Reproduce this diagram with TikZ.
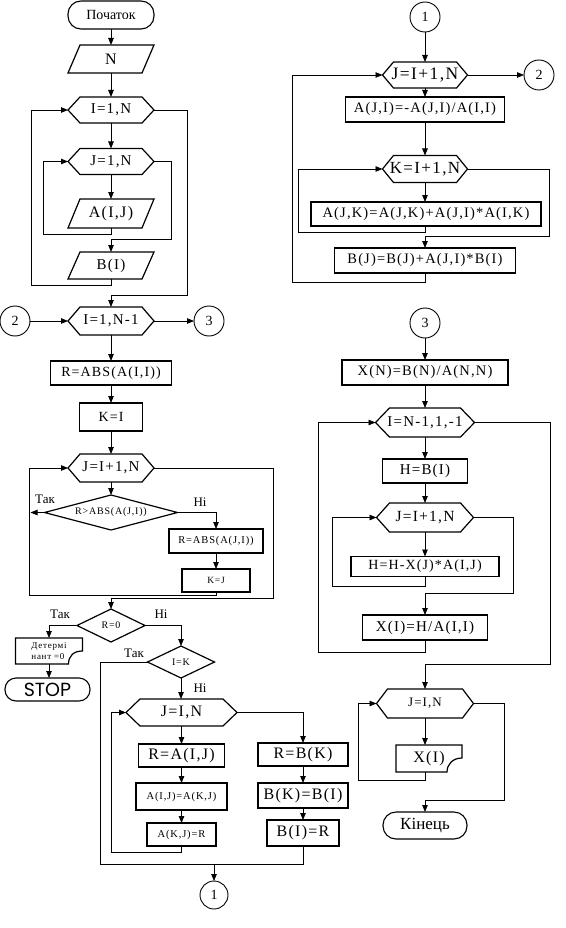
\documentclass[tikz,border=0pt]{standalone}
\usepackage{fontspec}
\setmainfont{Liberation Serif}
\newfontfamily\lblfont{Liberation Serif}[LetterSpace=8]
\newfontfamily\stopfont{Poppins}
\usetikzlibrary{arrows.meta}
\newcommand\myfs[1]{\fontsize{#1}{#1}\selectfont}
\newcommand\hexo[2][12pt]{\draw[outl] (#2.west) -- ([xshift=#1]#2.north west) -- ([xshift=-#1]#2.north east) -- (#2.east) -- ([xshift=-#1]#2.south east) -- ([xshift=#1]#2.south west) -- cycle;}
\newcommand\paro[2][12pt]{\draw[outl] ([xshift=#1]#2.north west) -- (#2.north east) -- ([xshift=-#1]#2.south east) -- (#2.south west) -- cycle;}
\newcommand\diamo[1]{\draw[outl] (#1.west) -- (#1.north) -- (#1.east) -- (#1.south) -- cycle;}
\begin{document}
\begin{tikzpicture}[x=1pt,y=-1pt,
  every node/.style={inner sep=0pt,outer sep=0pt},
  proc/.style={draw,line width=1.6pt,font=\lblfont\myfs{14}},
  shp/.style={font=\lblfont\myfs{15}},
  term/.style={draw,line width=1.1pt,font=\myfs{14}},
  conn/.style={draw,circle,line width=0.9pt,minimum size=30pt,font=\myfs{14}},
  arr/.style={draw,line width=0.8pt,-{Triangle[length=7pt,width=5.5pt]}},
  ln/.style={draw,line width=0.8pt},
  outl/.style={line width=1.2pt,line join=miter},
  lab/.style={font=\myfs{13}}]
\useasboundingbox (0,0) rectangle (565,928);

% ---------- left column ----------
\node[term,minimum width=86pt,minimum height=28pt,rounded corners=13pt] (start) at (111,15) {Початок};
\node[shp,minimum width=86pt,minimum height=28pt,font=\lblfont\myfs{16}] (inN) at (111,59) {N};
\node[shp,minimum width=86pt,minimum height=26pt] (hI) at (111,110) {I=1,N};
\node[shp,minimum width=86pt,minimum height=26pt] (hJ) at (111,161.5) {J=1,N};
\node[shp,minimum width=86pt,minimum height=29pt,font=\lblfont\myfs{16}] (inA) at (111,213.5) {A(I,J)};
\node[shp,minimum width=86pt,minimum height=27pt] (inB) at (111,265.5) {B(I)};
\node[shp,minimum width=86pt,minimum height=28pt] (hI2) at (111,321) {I=1,N-1};
\node[conn] (c2) at (15,321) {2};
\node[conn] (c3) at (209,321) {3};
\node[proc,minimum width=121pt,minimum height=24pt] (rAbs) at (111,373) {R=ABS(A(I,I))};
\node[proc,minimum width=63pt,minimum height=28pt] (rK) at (111,417) {K=I};
\node[shp,minimum width=86pt,minimum height=28pt] (hJ2) at (111,468) {J=I+1,N};
\node[shp,minimum width=133pt,minimum height=35pt,font=\lblfont\myfs{10}] (dR) at (111,512.5) {R>ABS(A(J,I))};
\node[proc,minimum width=94pt,minimum height=24pt,font=\lblfont\myfs{10.5}] (rAbs2) at (216,541) {R=ABS(A(J,I))};
\node[proc,minimum width=68pt,minimum height=23pt,font=\lblfont\myfs{9.5}] (rKJ) at (216,580.5) {K=J};
\node[shp,minimum width=68pt,minimum height=33pt,font=\lblfont\myfs{10}] (dR0) at (111,625.5) {R=0};
\node[shp,minimum width=67pt,minimum height=26pt,align=left,font=\lblfont\fontsize{9}{11}\selectfont] (doc1) at (49,651) {Детермі\\нант =0};
\node[term,minimum width=85pt,minimum height=23pt,rounded corners=11pt,font=\stopfont\myfs{19}] (stop) at (47.5,689.5) {STOP};
\node[shp,minimum width=67pt,minimum height=32pt,font=\lblfont\myfs{10}] (dIK) at (181,662) {I=K};
\node[shp,minimum width=111pt,minimum height=27pt,font=\lblfont\myfs{16}] (hJ3) at (181.5,712.5) {J=I,N};
\node[proc,minimum width=86pt,minimum height=23pt,font=\lblfont\myfs{16}] (rRA) at (181.5,755.5) {R=A(I,J)};
\node[proc,minimum width=91pt,minimum height=27pt,font=\lblfont\myfs{10.5}] (rAA) at (181.5,796.5) {A(I,J)=A(K,J)};
\node[proc,minimum width=69pt,minimum height=23pt,font=\lblfont\myfs{10.5}] (rAK) at (181.5,834.5) {A(K,J)=R};
\node[proc,minimum width=90pt,minimum height=23pt,font=\lblfont\myfs{16}] (rRB) at (303,754.5) {R=B(K)};
\node[proc,minimum width=90pt,minimum height=25pt,font=\lblfont\myfs{16}] (rBK) at (303,795.5) {B(K)=B(I)};
\node[proc,minimum width=72pt,minimum height=26pt,font=\lblfont\myfs{16}] (rBI) at (303,833) {B(I)=R};
\node[conn,minimum size=28pt] (c1b) at (214,895) {1};
\coordinate (jn) at (214,864);

% ---------- right column ----------
\node[conn] (c1) at (425,17) {1};
\node[shp,minimum width=85pt,minimum height=26pt,font=\lblfont\myfs{17.5}] (hJR) at (425,75) {J=I+1,N};
\node[conn] (c2r) at (539,75) {2};
\node[proc,minimum width=159pt,minimum height=25pt,font=\lblfont\myfs{14.5}] (rA1) at (425,109.5) {A(J,I)=-A(J,I)/A(I,I)};
\node[shp,minimum width=85pt,minimum height=27pt,font=\lblfont\myfs{17}] (hK) at (425,169) {K=I+1,N};
\node[proc,minimum width=230pt,minimum height=24pt,font=\lblfont\myfs{14.5}] (rA2) at (426,214) {A(J,K)=A(J,K)+A(J,I)*A(I,K)};
\node[proc,minimum width=181pt,minimum height=25pt,font=\lblfont\myfs{14.5}] (rB1) at (425,260.5) {B(J)=B(J)+A(J,I)*B(I)};
\node[conn] (c3r) at (425,323) {3};
\node[proc,minimum width=166pt,minimum height=25pt,font=\lblfont\myfs{14.5}] (rX) at (425,372.5) {X(N)=B(N)/A(N,N)};
\node[shp,minimum width=99pt,minimum height=29pt] (hI3) at (425,422.5) {I=N-1,1,-1};
\node[proc,minimum width=85pt,minimum height=24pt,font=\lblfont\myfs{15}] (rH) at (425,471) {H=B(I)};
\node[shp,minimum width=97pt,minimum height=29pt,font=\lblfont\myfs{15.5}] (hJ4) at (425,517.5) {J=I+1,N};
\node[proc,minimum width=148pt,minimum height=20pt] (rH2) at (425,566.5) {H=H-X(J)*A(I,J)};
\node[proc,minimum width=125pt,minimum height=25pt,font=\lblfont\myfs{15}] (rXI) at (425,627.5) {X(I)=H/A(I,I)};
\node[shp,minimum width=97pt,minimum height=29pt,font=\lblfont\myfs{13}] (hJ5) at (425,703.5) {J=I,N};
\node[shp,minimum width=66pt,minimum height=27pt,font=\lblfont\myfs{16}] (docX) at (429,758.5) {X(I)};
\node[term,minimum width=84pt,minimum height=27pt,rounded corners=13pt,font=\myfs{17}] (fin) at (425,825.5) {Кінець};

% ---------- outlines ----------
\paro{inN}\paro{inA}\paro{inB}
\hexo{hI}\hexo{hJ}\hexo{hI2}\hexo{hJ2}\hexo[14pt]{hJ3}
\hexo[11pt]{hJR}\hexo[11pt]{hK}\hexo[14pt]{hI3}\hexo[13pt]{hJ4}\hexo[11pt]{hJ5}
\diamo{dR}\diamo{dR0}\diamo{dIK}
\draw[outl] (doc1.south west) -- (doc1.north west) -- (doc1.north east) -- ([yshift=-13pt]doc1.north east)
  .. controls +(-9pt,0pt) and +(0pt,8pt) .. ([xshift=-14pt]doc1.south east) -- cycle;
\draw[outl] (docX.south west) -- (docX.north west) -- (docX.north east) -- ([yshift=-13pt]docX.north east)
  .. controls +(-9pt,0pt) and +(0pt,8pt) .. ([xshift=-15pt]docX.south east) -- cycle;

% ---------- labels ----------
\node[lab] (tak1) at (45,499) {Так};
\node[lab] (ni1) at (200,502) {Ні};
\node[lab] (tak2) at (60,614) {Так};
\node[lab] (ni2) at (161,614) {Ні};
\node[lab] (tak3) at (134,653) {Так};
\node[lab] (ni3) at (200,688) {Ні};

% ---------- connectors: left ----------
\draw[arr] (start.south) -- (inN.north);
\draw[arr] (inN.south) -- (hI.north);
\draw[arr] (hI.south) -- (hJ.north);
\draw[arr] (hJ.south) -- (inA.north);
\draw[arr] (inA.south) |- (43,234) |- (hJ.west);
\draw[arr] (hJ.east) -| (171,239) -| (inB.north);
\draw[arr] (inB.south) |- (31,285) |- (hI.west);
\draw[arr] (hI.east) -| (187,295) -| (hI2.north);
\draw[arr] (c2) -- (hI2.west);
\draw[arr] (hI2.east) -- (c3);
\draw[arr] (hI2.south) -- (rAbs.north);
\draw[arr] (rAbs.south) -- (rK.north);
\draw[arr] (rK.south) -- (hJ2.north);
\draw[arr] (hJ2.south) -- (dR.north);
\draw[arr] (dR.west) -- ++(-14,0);
\draw[arr] (dR.east) -| (rAbs2.north);
\draw[arr] (rAbs2.south) -- (rKJ.north);
\draw[arr] (rKJ.south) |- (29,595) |- (hJ2.west);
\draw[arr] (hJ2.east) -| (273,598) -| (dR0.north);
\draw[arr] (dR0.west) -| (doc1.north);
\draw[arr] (doc1.south) -- (doc1.south |- stop.north);
\draw[arr] (dR0.east) -| (dIK.north);
\draw[arr] (dIK.south) -- (dIK.south |- hJ3.north);
\draw[arr] (hJ3.south) -- (rRA.north);
\draw[arr] (rRA.south) -- (rAA.north);
\draw[arr] (rAA.south) -- (rAK.north);
\draw[arr] (rAK.south) |- (111,852) |- (hJ3.west);
\draw[arr] (hJ3.east) -| (rRB.north);
\draw[arr] (rRB.south) -- (rBK.north);
\draw[arr] (rBK.south) -- (rBI.north);
\draw[ln] (dIK.west) -| (100,864) -| (rBI.south);
\draw[arr] (jn) -- (c1b.north);

% ---------- connectors: right ----------
\draw[arr] (c1) -- (hJR.north);
\draw[arr] (hJR.east) -- (c2r);
\draw[arr] (hJR.south) -- (rA1.north);
\draw[arr] (rA1.south) -- (hK.north);
\draw[arr] (hK.south) -- (hK.south |- rA2.north);
\draw[arr] (hK.south |- rA2.south) |- (298,232) |- (hK.west);
\draw[arr] (hK.east) -| (549,236) -| (rB1.north);
\draw[arr] (rB1.south) |- (292,282) |- (hJR.west);
\draw[arr] (c3r) -- (rX.north);
\draw[arr] (rX.south) -- (hI3.north);
\draw[arr] (hI3.south) -- (rH.north);
\draw[arr] (rH.south) -- (hJ4.north);
\draw[arr] (hJ4.south) -- (rH2.north);
\draw[arr] (rH2.south) |- (332,586) |- (hJ4.west);
\draw[arr] (hJ4.east) -| (513,593) -| (rXI.north);
\draw[arr] (rXI.south) |- (318,652) |- (hI3.west);
\draw[arr] (hI3.east) -| (550,664) -| (hJ5.north);
\draw[arr] (hJ5.south) -- (hJ5.south |- docX.north);
\draw[arr] (hJ5.south |- docX.south) |- (358,780) |- (hJ5.west);
\draw[arr] (hJ5.east) -| (504,800) -| (fin.north);
\end{tikzpicture}
\end{document}
